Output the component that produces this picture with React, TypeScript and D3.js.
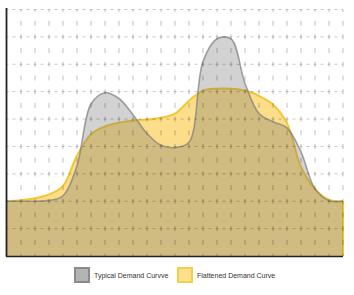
import React from "react";
import * as d3 from "d3";

const hours = d3.range(0, 25);
const typical = [2.0, 2.0, 2.0, 2.03, 2.2, 3.3, 5.55, 5.96, 5.75, 5.16, 4.47, 4.04, 3.96, 4.15, 7.1, 7.93, 7.93, 6.3, 5.2, 4.9, 4.68, 3.8, 2.45, 2.02, 2.0];
const flattened = [2.0, 2.04, 2.11, 2.25, 2.55, 3.67, 4.45, 4.73, 4.87, 4.95, 4.98, 5.05, 5.2, 5.67, 6.04, 6.11, 6.11, 6.04, 5.85, 5.53, 4.85, 3.25, 2.45, 2.05, 2.0];
const yTicks = [1, 2, 3, 4, 5, 6, 7, 8, 9];
const legendLabels = ["Typical Demand Curvve", "Flattened Demand Curve"];

const W = 354, H = 295;
const x = d3.scaleLinear().domain([0, 24]).range([7, 343]);
const y = d3.scaleLinear().domain([0, 9]).range([256, 9.5]);

export default function App() {
  const curve = d3.curveCatmullRom.alpha(0.5);
  const area = d3
    .area<number>()
    .x((_, i) => x(hours[i]))
    .y0(y(0))
    .y1((d) => y(d))
    .curve(curve);
  const line = d3
    .line<number>()
    .x((_, i) => x(hours[i]))
    .y((d) => y(d))
    .curve(curve);

  const legendX = [74, 177];
  const legendFill = ["#b4b4b4", "#fddf8c"];
  const legendStroke = ["#8a8a8a", "#f6cf48"];

  return (
    <svg width={W} height={H} style={{ position: "absolute", left: 0, top: 0 }}>
      <rect x={0} y={0} width={W} height={H} fill="#fff" />
      {/* flattened (yellow) */}
      <path d={area(flattened) || ""} fill="rgb(250,200,60)" fillOpacity={0.6} />
      <path d={line(flattened) || ""} fill="none" stroke="#f3c734" strokeWidth={2} />
      <line x1={x(24)} x2={x(24)} y1={y(flattened[24])} y2={y(0)} stroke="#f3c734" strokeWidth={2} />
      {/* typical (gray) */}
      <path d={area(typical) || ""} fill="rgb(105,105,105)" fillOpacity={0.3} />
      <path d={line(typical) || ""} fill="none" stroke="#7d7d7d" strokeOpacity={0.7} strokeWidth={1.6} />
      {/* grid */}
      {yTicks.map((t) => (
        <line key={"h" + t} x1={x(0)} x2={x(24)} y1={y(t)} y2={y(t)} stroke="rgba(0,0,0,0.22)" strokeWidth={1} strokeDasharray="3,4" strokeDashoffset={-5.5} />
      ))}
      {hours.slice(1).map((h) => (
        <line key={"v" + h} x1={x(h)} x2={x(h)} y1={y(9)} y2={y(0)} stroke="rgba(0,0,0,0.25)" strokeWidth={1} strokeDasharray="5,8.7" strokeDashoffset={2.5} />
      ))}
      {/* axes */}
      <line x1={6.5} x2={6.5} y1={8} y2={256.5} stroke="#222" strokeWidth={1.8} />
      <line x1={6} x2={343} y1={256.5} y2={256.5} stroke="#222" strokeWidth={1.5} />
      {/* legend */}
      {legendLabels.map((lab, i) => (
        <g key={lab}>
          <rect x={legendX[i] + 1} y={268} width={14} height={14} fill={legendFill[i]} stroke={legendStroke[i]} strokeWidth={2} />
          <text x={legendX[i] + 20} y={277.5} fontFamily="Liberation Sans, Arial, sans-serif" fontSize={7} fill="#333">
            {lab}
          </text>
        </g>
      ))}
    </svg>
  );
}
